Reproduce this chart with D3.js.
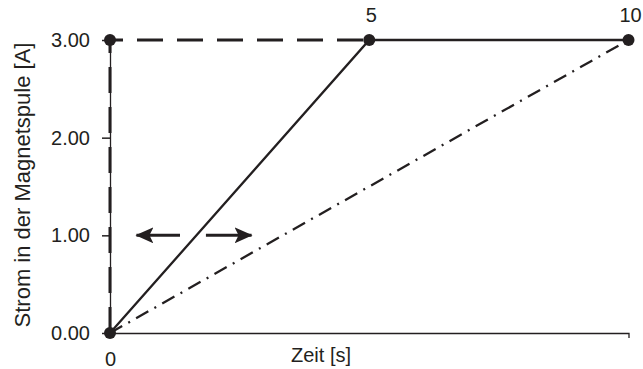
<!DOCTYPE html>
<html>
<head>
<meta charset="utf-8">
<script src="https://cdn.jsdelivr.net/npm/d3@7"></script>
<style>
  body { margin: 0; background: #fff; }
  text { font-family: "Liberation Sans", Arial, sans-serif; fill: #231f20; }
</style>
</head>
<body>
<div id="chart"></div>
<script>
// time [s] / current [A]
const solidLine = [{t: 0, i: 0}, {t: 5, i: 3}, {t: 10, i: 3}];
const dashedLine = [{t: 0, i: 0}, {t: 0, i: 3}, {t: 5, i: 3}];
const dashDotLine = [{t: 0, i: 0}, {t: 10, i: 3}];
const points = [{t: 0, i: 0}, {t: 0, i: 3}, {t: 5, i: 3}, {t: 10, i: 3}];
const pointLabels = [{t: 5, i: 3, label: "5"}, {t: 10, i: 3, label: "10"}];
const yTicks = [0, 1, 2, 3];
const xTicks = [0];
// double arrow at 1.00 A, split where the solid line crosses
const arrows = [{from: 1.35, to: 0.51, i: 1}, {from: 1.85, to: 2.73, i: 1}];

const ink = "#231f20";

const svg = d3.select("#chart")
  .append("svg")
  .attr("width", 643)
  .attr("height", 369);

const x = d3.scaleLinear().domain([0, 10]).range([110, 628.5]);
const y = d3.scaleLinear().domain([0, 3]).range([333, 40]);

svg.append("defs").append("marker")
  .attr("id", "head")
  .attr("markerUnits", "userSpaceOnUse")
  .attr("viewBox", "0 0 18 16")
  .attr("refX", 17)
  .attr("refY", 8)
  .attr("markerWidth", 18)
  .attr("markerHeight", 16)
  .attr("orient", "auto")
  .append("path")
  .attr("d", "M0,0L18,8L0,16L4,8Z")
  .attr("fill", ink);

// axes
const xAxis = svg.append("g")
  .attr("transform", "translate(0,333)")
  .call(d3.axisBottom(x).tickValues(xTicks).tickSize(0).tickSizeOuter(5).tickPadding(19));

const yAxis = svg.append("g")
  .attr("transform", "translate(110,0)")
  .call(d3.axisLeft(y).tickValues(yTicks).tickFormat(d3.format(".2f"))
    .tickSize(8).tickSizeOuter(0).tickPadding(12));

[xAxis, yAxis].forEach(g => {
  g.attr("font-size", 20).attr("font-family", null);
  g.select(".domain").attr("stroke", ink).attr("stroke-width", 1.3);
  g.selectAll(".tick line").attr("stroke", ink).attr("stroke-width", 1.5);
  g.selectAll(".tick text").attr("fill", ink);
});

svg.append("text")
  .attr("x", 321)
  .attr("y", 362)
  .attr("text-anchor", "middle")
  .attr("font-size", 20)
  .text("Zeit [s]");

svg.append("text")
  .attr("transform", "translate(30,185) rotate(-90)")
  .attr("text-anchor", "middle")
  .attr("font-size", 22)
  .text("Strom in der Magnetspule [A]");

const line = d3.line().x(d => x(d.t)).y(d => y(d.i));

svg.append("path")
  .datum(dashedLine)
  .attr("fill", "none")
  .attr("stroke", ink)
  .attr("stroke-width", 3)
  .attr("stroke-dasharray", "26,14")
  .attr("d", line);

svg.append("path")
  .datum(solidLine)
  .attr("fill", "none")
  .attr("stroke", ink)
  .attr("stroke-width", 2.3)
  .attr("d", line);

svg.append("path")
  .datum(dashDotLine)
  .attr("fill", "none")
  .attr("stroke", ink)
  .attr("stroke-width", 2.3)
  .attr("stroke-dasharray", "14,7,2,7")
  .attr("d", line);

svg.selectAll(".pt")
  .data(points)
  .join("circle")
  .attr("class", "pt")
  .attr("cx", d => x(d.t))
  .attr("cy", d => y(d.i))
  .attr("r", 6)
  .attr("fill", ink);

svg.selectAll(".plabel")
  .data(pointLabels)
  .join("text")
  .attr("class", "plabel")
  .attr("x", d => x(d.t) + 2)
  .attr("y", d => y(d.i) - 18)
  .attr("text-anchor", "middle")
  .attr("font-size", 20)
  .text(d => d.label);

svg.selectAll(".arrow")
  .data(arrows)
  .join("line")
  .attr("class", "arrow")
  .attr("x1", d => x(d.from))
  .attr("x2", d => x(d.to))
  .attr("y1", d => y(d.i))
  .attr("y2", d => y(d.i))
  .attr("stroke", ink)
  .attr("stroke-width", 3)
  .attr("marker-end", "url(#head)");
</script>
</body>
</html>
